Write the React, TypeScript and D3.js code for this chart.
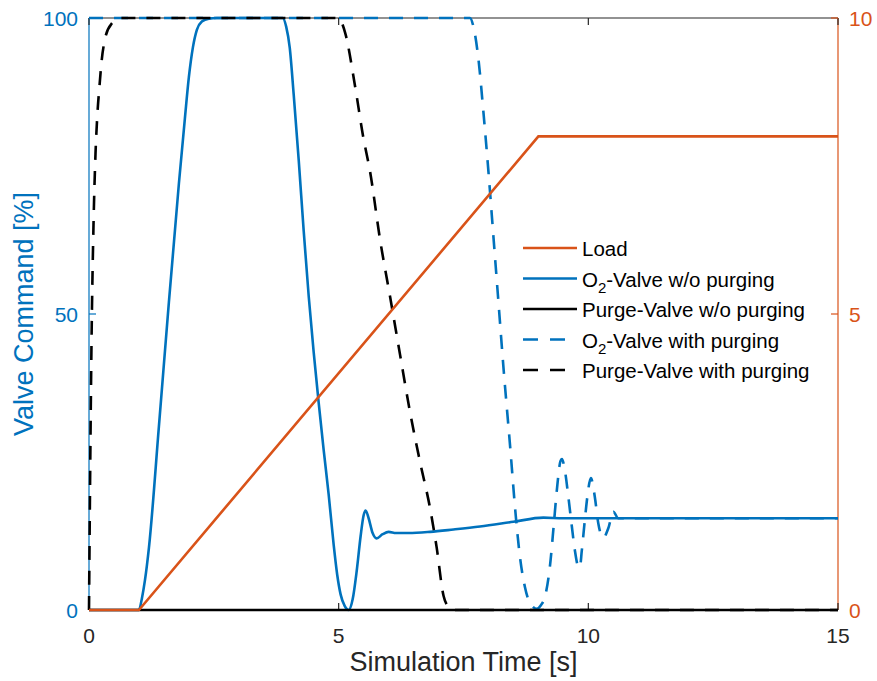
import React, { useRef, useEffect } from "react";
import * as d3 from "d3";

// time [s] / value pairs
const loadT = [0, 1, 9, 15];
const loadV = [0, 0, 8, 8];

const o2NoPurgeT = [0, 1, 1.06, 1.12, 1.2, 1.4, 1.6, 1.8, 1.92, 2.0, 2.08, 2.16, 2.26, 2.4, 2.56, 3.88, 3.95, 4.02, 4.1, 4.2, 4.3, 4.4, 4.5, 4.6, 4.7, 4.8, 4.9, 4.97, 5.04, 5.12, 5.2, 5.28, 5.36, 5.44, 5.5, 5.54, 5.6, 5.68, 5.76, 5.88, 6.0, 6.15, 6.4, 6.83, 7.3, 7.83, 8.5, 9.1, 9.5, 15];
const o2NoPurgeV = [0, 0, 2, 5, 10.5, 31, 52, 72, 83, 90, 95, 98, 99.4, 99.9, 100, 100, 98.5, 95, 87, 76, 64, 53, 43.5, 35, 27, 19.5, 11, 6, 2.6, 0.7, 0, 1.8, 6.5, 12.5, 16, 16.8, 15.5, 13, 12.1, 12.8, 13.2, 13, 13, 13.2, 13.6, 14.1, 14.9, 15.6, 15.5, 15.5];

const purgeNoPurgeT = [0, 15];
const purgeNoPurgeV = [0, 0];

const o2PurgeT = [0, 7.63, 7.7, 7.8, 7.9, 8.0, 8.1, 8.2, 8.3, 8.44, 8.53, 8.63, 8.73, 8.83, 8.97, 9.05, 9.13, 9.23, 9.31, 9.37, 9.44, 9.47, 9.53, 9.6, 9.67, 9.73, 9.8, 9.83, 9.87, 9.93, 9.98, 10.05, 10.13, 10.2, 10.3, 10.4, 10.5, 10.6, 15];
const o2PurgeV = [100, 100, 98.5, 93, 84, 74, 63, 52, 41, 27, 17.5, 9, 3.9, 1.2, 0.2, 0.8, 2.2, 7.3, 14.6, 20.3, 25.1, 25.5, 23.6, 19.1, 14.1, 10.1, 7.3, 7.2, 10.1, 15.2, 19.1, 22.3, 19.1, 14.6, 12.2, 13.8, 16.6, 15.5, 15.5];

const purgePurgeT = [0, 0.02, 0.05, 0.09, 0.13, 0.17, 0.21, 0.25, 0.33, 0.45, 0.65, 4.99, 5.13, 5.33, 5.49, 5.63, 5.83, 6.03, 6.23, 6.43, 6.63, 6.83, 6.96, 7.1, 7.2, 7.3, 15];
const purgePurgeV = [0, 20, 45, 65, 77, 84, 88.5, 92.5, 96.8, 99, 100, 100, 97.5, 88.4, 80, 74, 62.5, 52.9, 43.1, 33.4, 25, 17.2, 10.7, 2.4, 0.5, 0, 0];

const xTicks = [0, 5, 10, 15];
const yLeftTicks = [0, 50, 100];
const yRightTicks = [0, 5, 10];

const legendLabels = [
  ["Load"],
  ["O", "2", "-Valve w/o purging"],
  ["Purge-Valve w/o purging"],
  ["O", "2", "-Valve with purging"],
  ["Purge-Valve with purging"],
];

const BLUE = "#0072BD";
const ORANGE = "#D95319";
const DARK = "#262626";

function zip(t: number[], v: number[]) {
  return t.map((x, i) => [x, v[i]] as [number, number]);
}

export default function App() {
  const svgRef = useRef<SVGSVGElement>(null);
  const width = 877;
  const height = 681;
  const margin = { top: 18, right: 39, bottom: 71, left: 89 };

  useEffect(() => {
    const svg = d3.select(svgRef.current);
    svg.selectAll("*").remove();
    const font = "Liberation Sans, Arial, sans-serif";

    const x = d3.scaleLinear().domain([0, 15]).range([margin.left, width - margin.right]);
    const yL = d3.scaleLinear().domain([0, 100]).range([height - margin.bottom, margin.top]);
    const yR = d3.scaleLinear().domain([0, 10]).range([height - margin.bottom, margin.top]);
    const x0 = x(0), x1 = x(15), y0 = yL(0), y1 = yL(100);
    const tick = 7;

    // axes box
    const ax = svg.append("g");
    ax.append("line").attr("x1", x0).attr("x2", x1).attr("y1", y0).attr("y2", y0).attr("stroke", DARK).attr("stroke-width", 1.2);
    ax.append("line").attr("x1", x0).attr("x2", x1).attr("y1", y1).attr("y2", y1).attr("stroke", DARK).attr("stroke-width", 1.2);
    ax.append("line").attr("x1", x0).attr("x2", x0).attr("y1", y0).attr("y2", y1).attr("stroke", BLUE).attr("stroke-width", 1.2);
    ax.append("line").attr("x1", x1).attr("x2", x1).attr("y1", y0).attr("y2", y1).attr("stroke", ORANGE).attr("stroke-width", 1.2);

    xTicks.forEach((t) => {
      ax.append("line").attr("x1", x(t)).attr("x2", x(t)).attr("y1", y0).attr("y2", y0 - tick).attr("stroke", DARK).attr("stroke-width", 1.2);
      ax.append("line").attr("x1", x(t)).attr("x2", x(t)).attr("y1", y1).attr("y2", y1 + tick).attr("stroke", DARK).attr("stroke-width", 1.2);
      ax.append("text").attr("x", x(t)).attr("y", y0 + 25).attr("text-anchor", "middle").attr("dominant-baseline", "central")
        .attr("font-family", font).attr("font-size", 21).attr("fill", DARK).text(t);
    });
    yLeftTicks.forEach((t) => {
      ax.append("line").attr("x1", x0).attr("x2", x0 + tick).attr("y1", yL(t)).attr("y2", yL(t)).attr("stroke", BLUE).attr("stroke-width", 1.2);
      ax.append("text").attr("x", x0 - 11).attr("y", yL(t)).attr("text-anchor", "end").attr("dominant-baseline", "central")
        .attr("font-family", font).attr("font-size", 21).attr("fill", BLUE).text(t);
    });
    yRightTicks.forEach((t) => {
      ax.append("line").attr("x1", x1).attr("x2", x1 - tick).attr("y1", yR(t)).attr("y2", yR(t)).attr("stroke", ORANGE).attr("stroke-width", 1.2);
      ax.append("text").attr("x", x1 + 11).attr("y", yR(t)).attr("text-anchor", "start").attr("dominant-baseline", "central")
        .attr("font-family", font).attr("font-size", 21).attr("fill", ORANGE).text(t);
    });

    // axis labels
    svg.append("text").attr("x", (x0 + x1) / 2).attr("y", 662).attr("text-anchor", "middle").attr("dominant-baseline", "central")
      .attr("font-family", font).attr("font-size", 27).attr("fill", DARK).text("Simulation Time [s]");
    svg.append("text").attr("transform", `translate(24,${(y0 + y1) / 2}) rotate(-90)`).attr("text-anchor", "middle").attr("dominant-baseline", "central")
      .attr("font-family", font).attr("font-size", 27).attr("fill", BLUE).text("Valve Command [%]");

    // data
    const lineL = d3.line<[number, number]>().x((d) => x(d[0])).y((d) => yL(d[1])).curve(d3.curveMonotoneX);
    const lineR = d3.line<[number, number]>().x((d) => x(d[0])).y((d) => yR(d[1]));
    const dash = "14,11";
    const series = [
      { d: zip(o2NoPurgeT, o2NoPurgeV), c: BLUE, dash: "" },
      { d: zip(purgeNoPurgeT, purgeNoPurgeV), c: "#000", dash: "" },
      { d: zip(o2PurgeT, o2PurgeV), c: BLUE, dash },
      { d: zip(purgePurgeT, purgePurgeV), c: "#000", dash },
    ];
    series.forEach((s) => {
      svg.append("path").datum(s.d).attr("fill", "none").attr("stroke", s.c).attr("stroke-width", 2.6)
        .attr("stroke-dasharray", s.dash).attr("d", lineL);
    });
    svg.append("path").datum(zip(loadT, loadV)).attr("fill", "none").attr("stroke", ORANGE).attr("stroke-width", 2.6).attr("d", lineR);

    // legend
    const legStyles = [
      { c: ORANGE, dash: "" },
      { c: BLUE, dash: "" },
      { c: "#000", dash: "" },
      { c: BLUE, dash: "15,12" },
      { c: "#000", dash: "15,12" },
    ];
    const lg = svg.append("g");
    legendLabels.forEach((lab, i) => {
      const yy = 248 + i * 30.5;
      lg.append("line").attr("x1", 523).attr("x2", 577).attr("y1", yy).attr("y2", yy)
        .attr("stroke", legStyles[i].c).attr("stroke-width", 2.6).attr("stroke-dasharray", legStyles[i].dash);
      const tx = lg.append("text").attr("x", 582).attr("y", yy).attr("dominant-baseline", "central")
        .attr("font-family", font).attr("font-size", 20.5).attr("fill", "#000");
      if (lab.length === 3) {
        tx.append("tspan").text(lab[0]);
        tx.append("tspan").attr("font-size", 15).attr("dy", 8).text(lab[1]);
        tx.append("tspan").attr("dy", -8).text(lab[2]);
      } else {
        tx.text(lab[0]);
      }
    });
  }, []);

  return (
    <div style={{ position: "absolute", left: 0, top: 0 }}>
      <svg ref={svgRef} width={width} height={height} style={{ display: "block", background: "#fff" }} />
    </div>
  );
}
